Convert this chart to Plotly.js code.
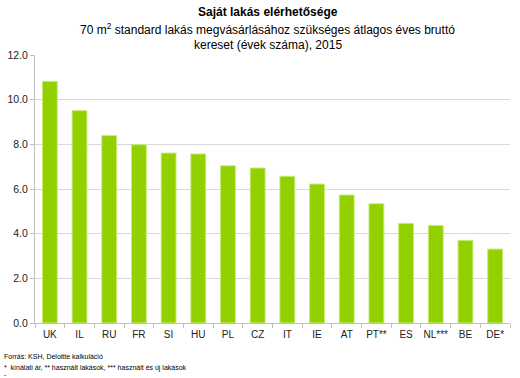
<!DOCTYPE html>
<html><head><meta charset="utf-8">
<script src="https://cdn.plot.ly/plotly-3.0.1.min.js"></script>
<style>body{margin:0;padding:0;background:#fff}#chart{width:520px;height:378px}</style>
</head><body><div id="chart"></div>
<script>
const countries = ["UK","IL","RU","FR","SI","HU","PL","CZ","IT","IE","AT","PT**","ES","NL***","BE","DE*"];
const years = [10.82,9.51,8.39,7.98,7.61,7.57,7.04,6.94,6.57,6.22,5.73,5.34,4.46,4.37,3.70,3.31];
const yTicks = [0,2,4,6,8,10,12];
const yTickLabels = ["0.0","2.0","4.0","6.0","8.0","10.0","12.0"];

const font = "Liberation Sans, Arial, sans-serif";
Plotly.newPlot("chart", [{
  type: "bar", x: countries, y: years,
  marker: {color: "#92d000", line: {color: "#c6ec7a", width: 1}},
  width: 0.5, hoverinfo: "none"
}], {
  width: 520, height: 378,
  margin: {l: 35, r: 10, t: 55, b: 55},
  paper_bgcolor: "#fff", plot_bgcolor: "#fff",
  showlegend: false,
  font: {family: font, size: 11, color: "#222"},
  xaxis: {type: "category", showline: true, linecolor: "#bfbfbf", linewidth: 1,
    ticks: "outside", ticklen: 4, tickcolor: "#bfbfbf", tickson: "boundaries",
    tickangle: 0, automargin: false, ticklabelstandoff: 2,
    showgrid: false, tickfont: {size: 10, color: "#222"}},
  yaxis: {range: [0, 12], tickvals: yTicks, ticktext: yTickLabels,
    showline: true, linecolor: "#bfbfbf", linewidth: 1, ticks: "outside", ticklen: 4,
    tickcolor: "#bfbfbf", showgrid: true, gridcolor: "#d9d9d9", gridwidth: 1,
    zeroline: false, automargin: false, tickfont: {size: 10.5, color: "#222"}},
  annotations: [
    {text: "<b>Saját lakás elérhetősége</b>", xref: "paper", yref: "paper", x: 0.5, y: 1, xanchor: "center", yanchor: "bottom", showarrow: false, font: {size: 12, color: "#000"}, yshift: 34, xshift: -5},
    {text: "70 m<sup>2</sup> standard lakás megvásárlásához szükséges átlagos éves bruttó", xref: "paper", yref: "paper", x: 0.5, y: 1, xanchor: "center", yanchor: "bottom", showarrow: false, font: {size: 12, color: "#000"}, yshift: 16, xshift: -5},
    {text: "kereset (évek száma), 2015", xref: "paper", yref: "paper", x: 0.5, y: 1, xanchor: "center", yanchor: "bottom", showarrow: false, font: {size: 12, color: "#000"}, yshift: 1, xshift: -5},
    {text: "Forrás: KSH, Deloitte kalkuláció", xref: "paper", yref: "paper", x: 0, y: 0, xanchor: "left", yanchor: "top", showarrow: false, font: {size: 7, color: "#000"}, xshift: -33, yshift: -28},
    {text: "*  kínálati ár, ** használt lakások, *** használt és új lakások", xref: "paper", yref: "paper", x: 0, y: 0, xanchor: "left", yanchor: "top", showarrow: false, font: {size: 7, color: "#000"}, xshift: -33, yshift: -39},
    {text: "-", xref: "paper", yref: "paper", x: 0, y: 0, xanchor: "left", yanchor: "top", showarrow: false, font: {size: 7, color: "#000"}, xshift: -33, yshift: -46}
  ]
}, {displayModeBar: false, staticPlot: true});
</script></body></html>
